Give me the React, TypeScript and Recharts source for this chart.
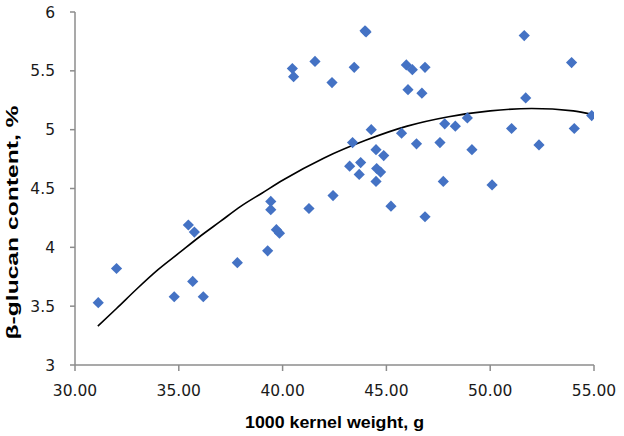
import React from "react";
import { ComposedChart, Scatter, Line, XAxis, YAxis, Label } from "recharts";

const weights = [
  31.12, 32.0, 34.78, 35.46, 35.67, 35.75, 36.18, 37.82, 39.28, 39.43, 39.43, 39.7, 39.85,
  40.47, 40.53, 41.27, 41.56, 42.38, 42.43, 43.23, 43.37, 43.45, 43.69, 43.76, 43.97, 44.02,
  44.27, 44.5, 44.5, 44.53, 44.72, 44.87, 45.22, 45.73, 45.96, 46.04, 46.25, 46.45, 46.71,
  46.86, 46.86, 47.58, 47.74, 47.81, 48.32, 48.9, 49.12, 50.09, 51.03, 51.64, 51.71, 52.35,
  53.92, 54.05, 54.89,
];
const betaGlucan = [
  3.53, 3.82, 3.58, 4.19, 3.71, 4.13, 3.58, 3.87, 3.97, 4.39, 4.32, 4.15, 4.12,
  5.52, 5.45, 4.33, 5.58, 5.4, 4.44, 4.69, 4.89, 5.53, 4.62, 4.72, 5.84, 5.83,
  5.0, 4.83, 4.56, 4.67, 4.64, 4.78, 4.35, 4.97, 5.55, 5.34, 5.51, 4.88, 5.31,
  5.53, 4.26, 4.89, 4.56, 5.05, 5.03, 5.1, 4.83, 4.53, 5.01, 5.8, 5.27, 4.87,
  5.57, 5.01, 5.12,
];
const trendWeights = [31.1, 32, 33, 34, 35, 36, 37, 38, 39, 40, 42, 44, 46, 48, 50, 52, 54, 54.9];
const trendValues = [3.33, 3.48, 3.65, 3.81, 3.95, 4.09, 4.22, 4.35, 4.46, 4.57, 4.76, 4.91, 5.03, 5.11, 5.16, 5.18, 5.16, 5.13];
const xTicks = [30, 35, 40, 45, 50, 55];
const yTicks = [3, 3.5, 4, 4.5, 5, 5.5, 6];

const points = weights.map((x, i) => ({ x, y: betaGlucan[i] }));
const trend = trendWeights.map((x, i) => ({ x, y: trendValues[i] }));

const Diamond = (props: any) => {
  const { cx, cy } = props;
  const r = 5.6;
  return (
    <path
      d={`M${cx},${cy - r}L${cx + r},${cy}L${cx},${cy + r}L${cx - r},${cy}Z`}
      fill="#4472C4"
    />
  );
};

const tickStyle = { fontFamily: "DejaVu Sans", fontSize: 15.5, fill: "#1a1a1a" };

export default function App() {
  return (
    <div style={{ position: "absolute", left: 0, top: 0, background: "#fff" }}>
      <ComposedChart
        width={624}
        height={436}
        margin={{ top: 12, right: 30, left: 0, bottom: 0 }}
      >
        <XAxis
          type="number"
          dataKey="x"
          domain={[30, 55]}
          ticks={xTicks}
          tickFormatter={(v: number) => v.toFixed(2)}
          height={71}
          tickSize={6}
          tickMargin={14}
          stroke="#8c8c8c"
          strokeWidth={1.5}
          tick={tickStyle}
          allowDataOverflow
        >
          <Label
            content={(p: any) => {
              const vb = p.viewBox;
              return (
                <text
                  x={vb.x + vb.width / 2}
                  y={428}
                  textAnchor="middle"
                  fontFamily="Liberation Sans"
                  fontWeight="bold"
                  fontSize={17}
                  fill="#000"
                  textLength={179}
                  lengthAdjust="spacingAndGlyphs"
                >
                  1000 kernel weight, g
                </text>
              );
            }}
          />
        </XAxis>
        <YAxis
          type="number"
          dataKey="y"
          domain={[3, 6]}
          ticks={yTicks}
          width={75}
          tickSize={5}
          tickMargin={15}
          stroke="#8c8c8c"
          strokeWidth={1.5}
          tick={tickStyle}
          allowDataOverflow
        >
          <Label
            content={(p: any) => {
              const vb = p.viewBox;
              const cy = vb.y + vb.height / 2 + 34;
              return (
                <text
                  x={18}
                  y={cy}
                  transform={`rotate(-90 18 ${cy})`}
                  textAnchor="middle"
                  fontFamily="Liberation Sans"
                  fontWeight="bold"
                  fontSize={16}
                  fill="#000"
                  textLength={234}
                  lengthAdjust="spacingAndGlyphs"
                >
                  β-glucan content, %
                </text>
              );
            }}
          />
        </YAxis>
        <Line
          data={trend}
          dataKey="y"
          type="monotone"
          stroke="#000"
          strokeWidth={1.6}
          dot={false}
          activeDot={false}
          isAnimationActive={false}
        />
        <Scatter
          data={points}
          dataKey="y"
          shape={<Diamond />}
          isAnimationActive={false}
        />
      </ComposedChart>
    </div>
  );
}
